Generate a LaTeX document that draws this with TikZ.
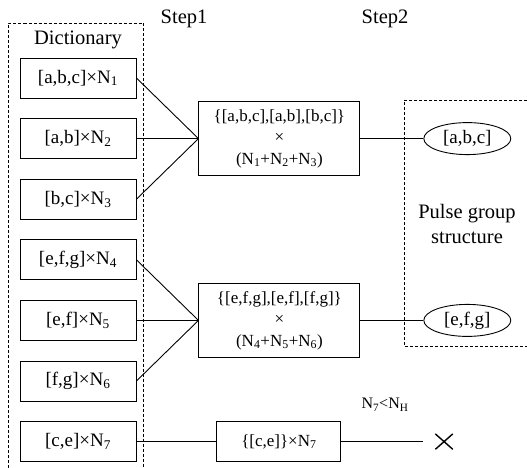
\documentclass[tikz,border=0pt]{standalone}
\usepackage{fontspec}
\setmainfont{Liberation Serif}
\usetikzlibrary{positioning, shapes.geometric, shapes.misc}
\tikzset{
node distance=19.7pt,
box/.style={%
    rectangle,
    draw=black,
    minimum width=116pt,
    minimum height=40pt,
    inner sep=2pt,
    font=\fontsize{19}{22}\selectfont
},
group/.style={%
    box,
    minimum width=161pt,
    minimum height=74pt,
    align=center,
    font=\fontsize{17}{21.5}\selectfont
},
pulse/.style={%
    ellipse,
    draw=black,
    minimum width=87pt,
    minimum height=32pt,
    inner sep=1pt,
    font=\fontsize{19}{22}\selectfont
},
title/.style={font=\fontsize{20.5}{25}\selectfont},
frame/.style={dash pattern=on 3pt off 2pt, line width=0.6pt},
}

\begin{document}
\begin{tikzpicture}[x=1pt, y=-1pt, line width=0.9pt]
	\useasboundingbox (0,0) rectangle (527,468);
	% dictionary
	\node[box] (d1) at (78,78) {[a,b,c]×N\textsubscript{1}};
	\node[box, below=of d1] (d2) {[a,b]×N\textsubscript{2}};
	\node[box, below=of d2] (d3) {[b,c]×N\textsubscript{3}};
	\node[box, below=of d3] (d4) {[e,f,g]×N\textsubscript{4}};
	\node[box, below=of d4] (d5) {[e,f]×N\textsubscript{5}};
	\node[box, below=of d5] (d6) {[f,g]×N\textsubscript{6}};
	\node[box, below=of d6] (d7) {[c,e]×N\textsubscript{7}};
	\node[title] (dict) at (78,40) {Dictionary};
	% step 1
	\node[group, right=62pt of d2] (m1) {\{[a,b,c],[a,b],[b,c]\}\\×\\(N\textsubscript{1}+N\textsubscript{2}+N\textsubscript{3})};
	\node[group, right=62pt of d5] (m2) {\{[e,f,g],[e,f],[f,g]\}\\×\\(N\textsubscript{4}+N\textsubscript{5}+N\textsubscript{6})};
	\node[box, minimum width=124pt, font=\fontsize{17}{20}\selectfont, right=80pt of d7] (m3) {\{[c,e]\}×N\textsubscript{7}};
	% step 2
	\node[pulse, right=63pt of m1] (p1) {[a,b,c]};
	\node[pulse, right=63pt of m2] (p2) {[e,f,g]};
	\node[cross out, draw, minimum width=16pt, minimum height=14pt, line width=1.4pt, right=94pt of m3] (rej) {};
	\node[font=\fontsize{16}{18}\selectfont] (cond) at (385,405) {N\textsubscript{7}<N\textsubscript{H}};
	\node[title] (s1) at (184,19) {Step1};
	\node[title] (s2) at (385,19) {Step2};
	\node[title, align=center] (pg) at (467,224) {Pulse group\\structure};

	\draw[frame] (8.5,468) |- (143,23) -- (143,468);
	\draw[frame] (527,100) -| (404,346) -- (527,346);

	\foreach \i in {1,2,3} \draw (d\i.east) -- (m1.west);
	\foreach \i in {4,5,6} \draw (d\i.east) -- (m2.west);
	\draw (d7) -- (m3);
	\draw (m1) -- (p1);
	\draw (m2) -- (p2);
	\draw[shorten >=12pt] (m3) -- (rej);
\end{tikzpicture}
\end{document}
